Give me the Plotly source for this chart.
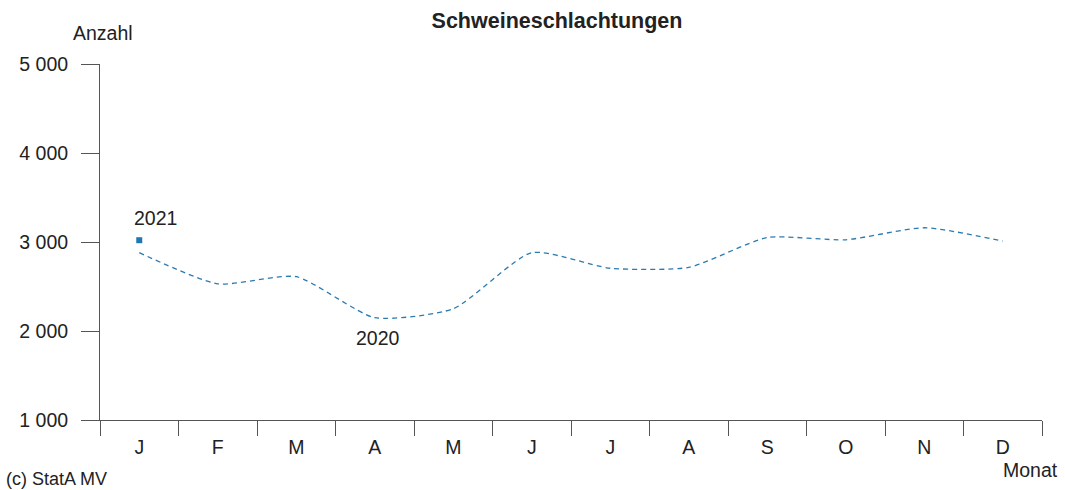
import plotly.graph_objects as go

months = ["J", "F", "M", "A", "M", "J", "J", "A", "S", "O", "N", "D"]
values_2020 = [2880, 2530, 2610, 2150, 2250, 2880, 2705, 2715, 3050, 3025, 3160, 3010]
values_2021 = [3020]
y_ticks = [1000, 2000, 3000, 4000, 5000]

x_idx = list(range(len(months)))
color = "#2b7bb0"
font = "Liberation Sans, Arial, sans-serif"
fs = 19.5

fig = go.Figure()
fig.add_trace(go.Scatter(
    x=x_idx, y=values_2020, mode="lines",
    line=dict(color=color, width=1.3, dash="5px,4px", shape="spline", smoothing=0.6),
    showlegend=False, hoverinfo="skip"))
fig.add_trace(go.Scatter(
    x=x_idx[:len(values_2021)], y=values_2021, mode="markers",
    marker=dict(color="#1f77b4", symbol="square", size=6),
    showlegend=False, hoverinfo="skip"))

fig.add_annotation(x=0, y=values_2021[0], text="2021", showarrow=False,
                   xshift=16, yshift=22, font=dict(size=fs, color="#222", family=font))
fig.add_annotation(x=3, y=values_2020[3], text="2020", showarrow=False,
                   xshift=3, yshift=-20, font=dict(size=fs, color="#222", family=font))

fig.update_layout(
    width=1065, height=490,
    margin=dict(l=100, r=23, t=64, b=70, autoexpand=False),
    plot_bgcolor="white", paper_bgcolor="white",
    separators=", ",
    font=dict(family=font, size=fs, color="#222"),
    title=dict(text="<b>Schweineschlachtungen</b>", x=557 / 1065, xanchor="center",
               y=1 - 20 / 490, yanchor="middle", font=dict(size=21.5, color="#222", family=font)),
    xaxis=dict(
        range=[-0.5, 11.5], tickmode="array", tickvals=x_idx, ticktext=months,
        ticks="outside", ticklen=10, tickcolor="rgba(0,0,0,0)", automargin=False,
        showgrid=False, zeroline=False, showline=True, linecolor="#555", linewidth=1,
        tickfont=dict(size=fs, color="#222"),
        minor=dict(tickmode="array", tickvals=[i - 0.5 for i in range(13)],
                   ticks="outside", ticklen=15, tickcolor="#555", tickwidth=1, showgrid=False),
    ),
    yaxis=dict(
        range=[1000, 5000], tickmode="array", tickvals=y_ticks, tickformat=",d",
        ticks="outside", ticklen=18, tickcolor="#555", tickwidth=1, automargin=False,
        ticklabelstandoff=9,
        showgrid=False, zeroline=False, showline=True, linecolor="#555", linewidth=1,
        tickfont=dict(size=fs, color="#222"),
    ),
)

fig.add_annotation(xref="paper", yref="paper", x=0, y=1, xanchor="center", yanchor="middle",
                   xshift=3, yshift=31,
                   text="Anzahl", showarrow=False, font=dict(size=fs, color="#222", family=font))
fig.add_annotation(xref="paper", yref="paper", x=1, y=0, xanchor="center", yanchor="middle",
                   xshift=-12, yshift=-50,
                   text="Monat", showarrow=False, font=dict(size=fs, color="#222", family=font))
fig.add_annotation(xref="paper", yref="paper", x=0, y=0, xanchor="left", yanchor="middle",
                   xshift=-96, yshift=-59,
                   text="(c) StatA MV", showarrow=False, font=dict(size=18, color="#222", family=font))

fig.write_html("out.html", config={"displayModeBar": False},
               post_script="document.body.style.margin='0';")
